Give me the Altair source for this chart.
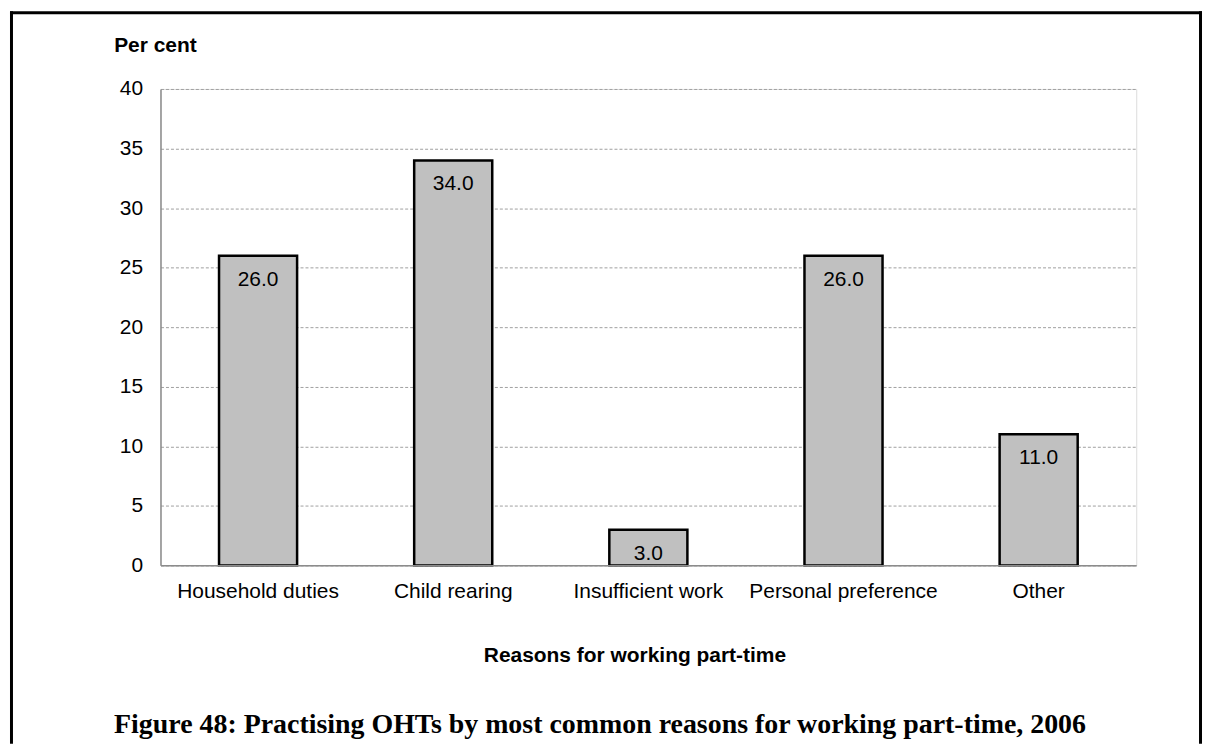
import altair as alt
import pandas as pd

categories = ["Household duties", "Child rearing", "Insufficient work", "Personal preference", "Other"]
values = [26.0, 34.0, 3.0, 26.0, 11.0]
y_ticks = [0, 5, 10, 15, 20, 25, 30, 35, 40]
caption = "Figure 48: Practising OHTs by most common reasons for working part-time, 2006"

df = pd.DataFrame({"reason": categories, "pct": values})
cap_df = pd.DataFrame({"t": [caption]})

W, H = 979, 478
FONT = "Liberation Sans"

x_enc = alt.X(
    "reason:N",
    sort=categories,
    scale=alt.Scale(paddingInner=0.6, paddingOuter=0.3),
    axis=alt.Axis(
        title="Reasons for working part-time",
        titleFont=FONT, titleFontSize=21, titleFontWeight="bold", titleColor="black",
        titleX=475.5, titleY=96, titleAlign="center", titleBaseline="alphabetic",
        labelFont=FONT, labelFontSize=21, labelColor="black", labelAngle=0,
        labelPadding=15, labelLimit=0, ticks=False, tickSize=0,
        domainColor="#8c8c8c", domainWidth=1.5, grid=False, zindex=1,
    ),
)
y_enc = alt.Y(
    "pct:Q",
    scale=alt.Scale(domain=[0, 40], nice=False, zero=True),
    axis=alt.Axis(
        title="Per cent", titleAngle=0,
        titleFont=FONT, titleFontSize=21, titleFontWeight="bold", titleColor="black",
        titleX=-47, titleY=-38, titleAlign="left", titleBaseline="alphabetic",
        values=y_ticks, labelFont=FONT, labelFontSize=21, labelColor="black",
        labelPadding=18, ticks=False, tickSize=0,
        domainColor="#8c8c8c", domainWidth=1.5,
        grid=True, gridColor="#a0a0a0", gridDash=[3, 2], gridWidth=1, zindex=0,
    ),
)

bars = alt.Chart(df).mark_bar(color="#C0C0C0", stroke="black", strokeWidth=2.5).encode(
    x=x_enc, y=y_enc
)
labels = alt.Chart(df).mark_text(
    font=FONT, fontSize=21, color="black", baseline="alphabetic", dy=30
).encode(
    x=alt.X("reason:N", sort=categories),
    y=alt.Y("pct:Q"),
    text=alt.Text("pct:Q", format=".1f"),
)
cap = alt.Chart(cap_df).mark_text(
    font="Liberation Serif", fontSize=28, fontWeight="bold", color="black",
    baseline="alphabetic", align="center",
).encode(x=alt.value(441), y=alt.value(646), text="t:N")

one = pd.DataFrame({"k": [0]})
left = alt.Chart(one).mark_rule(color="black", strokeWidth=3).encode(
    x=alt.value(-149.5), y=alt.value(-78), y2=alt.value(657))
right = alt.Chart(one).mark_rule(color="black", strokeWidth=3).encode(
    x=alt.value(1043.5), y=alt.value(-78), y2=alt.value(657))
top = alt.Chart(one).mark_rule(color="black", strokeWidth=3).encode(
    x=alt.value(-151), x2=alt.value(1045), y=alt.value(-76.5))

chart = alt.layer(bars, labels, cap, left, right, top).properties(
    width=W, height=H, padding=0
).configure_view(stroke=None).configure(background="white")

chart.save("out.html", embed_options={"renderer": "svg", "actions": False})
